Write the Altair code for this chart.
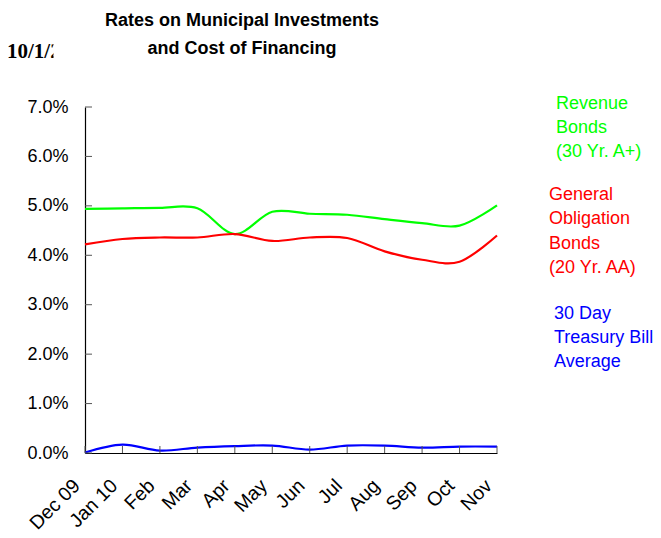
import altair as alt
import pandas as pd

months = ["Dec 09", "Jan 10", "Feb", "Mar", "Apr", "May", "Jun", "Jul", "Aug", "Sep", "Oct", "Nov"]
revenue = [4.94, 4.95, 4.96, 4.95, 4.43, 4.88, 4.84, 4.82, 4.73, 4.65, 4.60, 5.01]
general = [4.22, 4.33, 4.36, 4.36, 4.43, 4.29, 4.36, 4.35, 4.08, 3.91, 3.87, 4.40]
tbill = [0.01, 0.17, 0.05, 0.11, 0.14, 0.15, 0.07, 0.15, 0.15, 0.11, 0.13, 0.13]
series_names = ["Revenue", "General", "TBill"]
series_colors = ["#00ff00", "#ff0000", "#0000ff"]
y_ticks = [0, 1, 2, 3, 4, 5, 6, 7]

FONT = "Liberation Sans"
W, H = 412, 346

rows = []
for name, vals in zip(series_names, [revenue, general, tbill]):
    for m, v in zip(months, vals):
        rows.append({"month": m, "value": v, "series": name})
df = pd.DataFrame(rows)

xscale = alt.Scale(type="point", domain=months, padding=0)
yscale = alt.Scale(domain=[0, 7])

lines = alt.Chart(df).mark_line(interpolate="cardinal", strokeWidth=2.2).encode(
    x=alt.X("month:O", scale=xscale, sort=months,
            axis=alt.Axis(title=None, labelAngle=-45, labelAlign="right", labelBaseline="top",
                          labelFontSize=19.5, labelFont=FONT, labelColor="black", labelPadding=23,
                          labelOffset=-15, labelOverlap=False,
                          ticks=False, domainColor="black", domainWidth=1.2, grid=False)),
    y=alt.Y("value:Q", scale=yscale,
            axis=alt.Axis(title=None, values=y_ticks, labelExpr="format(datum.value, '.1f') + '%'",
                          labelFontSize=18, labelFont=FONT, labelColor="black", labelPadding=17,
                          ticks=False, domainColor="black", domainWidth=1.2, grid=False)),
    color=alt.Color("series:N", scale=alt.Scale(domain=series_names, range=series_colors), legend=None),
    detail="series:N",
)

# inward tick marks
ytick_df = pd.DataFrame({"v": y_ticks})
yticks = alt.Chart(ytick_df).mark_rule(color="#555555", strokeWidth=1).encode(
    y=alt.Y("v:Q", scale=yscale), x=alt.value(0), x2=alt.value(7)
)
xtick_df = pd.DataFrame({"m": months})
xticks = alt.Chart(xtick_df).mark_rule(color="#555555", strokeWidth=1).encode(
    x=alt.X("m:O", scale=xscale, sort=months), y=alt.value(H - 7), y2=alt.value(H)
)

one = pd.DataFrame({"a": [0]})


def label(text, x, y, color="black", size=18, font=FONT, weight="normal", align="left", baseline="top", lh=24):
    return alt.Chart(one).mark_text(text=text, align=align, baseline=baseline, fontSize=size, font=font,
                                    fontWeight=weight, color=color, lineHeight=lh).encode(
        x=alt.value(x), y=alt.value(y))


title1 = label("Rates on Municipal Investments", 157, -81.5, size=18, weight="bold", align="center", baseline="alphabetic")
title2 = label("and Cost of Financing", 157, -53, size=18, weight="bold", align="center", baseline="alphabetic")
date = label("10/1/2", -78, -49.5, size=21, font="Liberation Serif", weight="bold", baseline="alphabetic")
# the date is cut off at its right edge in the original
date_clip = alt.Chart(one).mark_rect(color="white").encode(
    x=alt.value(-31.5), x2=alt.value(-20), y=alt.value(-80), y2=alt.value(-40)
)
leg_g = label(["Revenue", "Bonds", "(30 Yr. A+)"], 471, -11.6, color="#00ff00")
leg_r = label(["General", "Obligation", "Bonds", "(20 Yr. AA)"], 464, 79, color="#ff0000", lh=24.3)
leg_b = label(["30 Day", "Treasury Bill", "Average"], 469, 198.4, color="#0000ff")

chart = alt.layer(lines, yticks, xticks, title1, title2, date, date_clip, leg_g, leg_r, leg_b).properties(
    width=W, height=H,
    padding={"left": 85, "top": 107, "right": 661 - 85 - W, "bottom": 538 - 107 - H},
    autosize=alt.AutoSizeParams(type="none"),
    background="white",
).configure_view(stroke=None)

chart.save("out.html", embed_options={"renderer": "svg", "actions": False})
